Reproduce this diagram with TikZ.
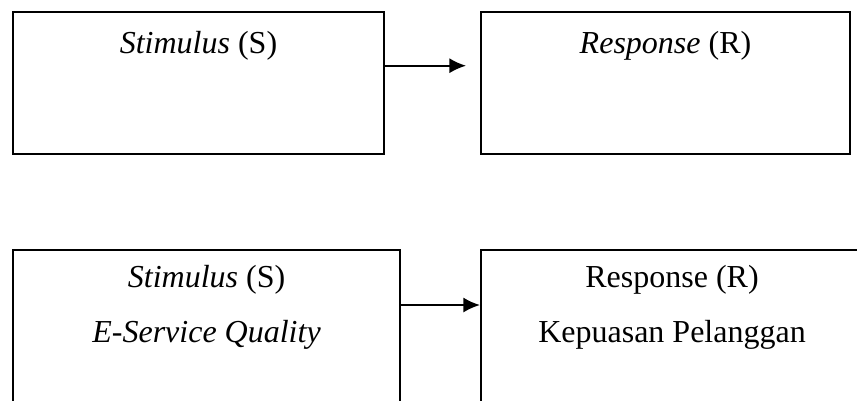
\documentclass[tikz,border=0pt]{standalone}
\usepackage{fontspec}
\setmainfont{Liberation Serif}
\usetikzlibrary{arrows.meta}
\tikzset{
    box/.style={draw,line width=0.8pt,inner sep=0pt},
    arr/.style={line width=0.75pt,-{Latex[length=2.2mm,width=2mm]}},
    lbl/.style={anchor=base,font=\fontsize{12pt}{14pt}\selectfont}
}
\begin{document}
\begin{tikzpicture}
        \useasboundingbox (0,0) rectangle (11.295,-5.285);
        \clip (0,0) rectangle (11.295,-5.285);
        % top row
        \node[box,minimum width=4.89cm,minimum height=1.872cm](s1) at (2.616,-1.094){};
        \node[box,minimum width=4.863cm,minimum height=1.872cm](r1) at (8.771,-1.094){};
        \node[lbl](s1lbl) at (2.616,-0.699){\textit{Stimulus} (S)};
        \node[lbl](r1lbl) at (8.771,-0.699){\textit{Response} (R)};
        \coordinate (tip1) at (6.142,-0.866);
        \draw[arr](s1.east |- tip1)--(tip1);
        % bottom row, cut off by the page
        \node[box,minimum width=5.101cm,minimum height=3cm](s2) at (2.722,-4.795){};
        \node[box,minimum width=5.035cm,minimum height=3cm](r2) at (8.857,-4.795){};
        \node[lbl](s2lbl) at (2.722,-3.783){\textit{Stimulus} (S)};
        \node[lbl](s2sub) at (2.722,-4.508){\textit{E-Service Quality}};
        \node[lbl](r2lbl) at (8.857,-3.783){Response (R)};
        \node[lbl](r2sub) at (8.857,-4.508){Kepuasan Pelanggan};
        \coordinate (mid2) at (0,-4.02);
        \draw[arr](s2.east |- mid2)--(r2.west |- mid2);
    \end{tikzpicture}
\end{document}
